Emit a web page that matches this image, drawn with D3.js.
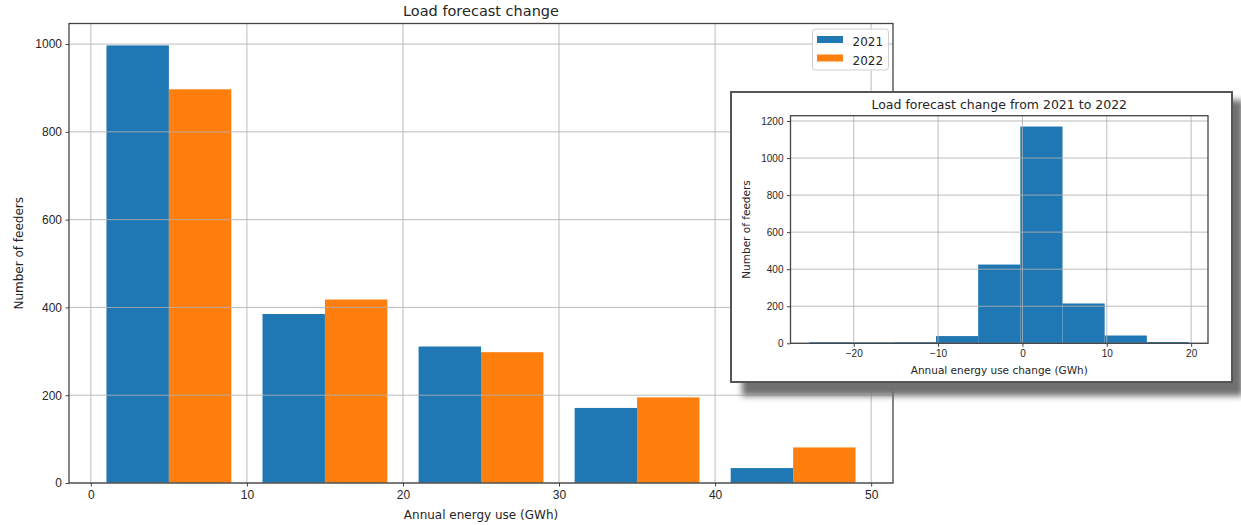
<!DOCTYPE html>
<html>
<head>
<meta charset="utf-8">
<script src="https://cdn.jsdelivr.net/npm/d3@7"></script>
<style>
  body { margin: 0; background: #fff; }
  svg { display: block; font-family: "DejaVu Sans", sans-serif; }
</style>
</head>
<body>
<div id="chart"></div>
<script>
const years = ["2021", "2022"];
const yearColors = ["#1f77b4", "#ff7f0e"];
const binEdges = [0, 10, 20, 30, 40, 50];
const feeders2021 = [997, 385, 311, 171, 34];
const feeders2022 = [897, 418, 298, 195, 81];

const changeEdges = [-25.25, -20.25, -15.25, -10.25, -5.25, -0.25, 4.75, 9.75, 14.75, 19.75];
const changeCounts = [6, 5, 6, 39, 425, 1170, 215, 42, 7];

const width = 1241;
const height = 525;
const textColor = "#262626";
const spineColor = "#444";
const gridColor = "#b0b0b0";
const tickFormat = d3.format("d");

const svg = d3.select("#chart").append("svg")
    .attr("width", width)
    .attr("height", height)
    .attr("viewBox", [0, 0, width, height]);

// matplotlib style autoscale: 5% margin on x, y sticks to zero
function padded(lo, hi) {
    const m = (hi - lo) * 0.05;
    return [lo - m, hi + m];
}

function frame(g, x, y, box, opts) {
    g.append("g")
        .attr("transform", `translate(0,${box.bottom})`)
        .call(d3.axisBottom(x).ticks(opts.xTicks).tickFormat(tickFormat)
            .tickSize(3.5).tickPadding(3.5).tickSizeOuter(0))
        .call(a => a.select(".domain").remove())
        .call(a => a.selectAll("line").attr("stroke", spineColor))
        .call(a => a.selectAll("text").attr("fill", textColor).attr("font-size", opts.tickSize));

    g.append("g")
        .attr("transform", `translate(${box.left},0)`)
        .call(d3.axisLeft(y).ticks(opts.yTicks).tickFormat(tickFormat)
            .tickSize(3.5).tickPadding(3.5).tickSizeOuter(0))
        .call(a => a.select(".domain").remove())
        .call(a => a.selectAll("line").attr("stroke", spineColor))
        .call(a => a.selectAll("text").attr("fill", textColor).attr("font-size", opts.tickSize));

    g.append("text")
        .attr("x", (box.left + box.right) / 2)
        .attr("y", opts.titleY)
        .attr("text-anchor", "middle")
        .attr("font-size", opts.titleSize)
        .attr("fill", textColor)
        .text(opts.title);

    g.append("text")
        .attr("x", (box.left + box.right) / 2)
        .attr("y", opts.xLabelY)
        .attr("text-anchor", "middle")
        .attr("font-size", opts.labelSize)
        .attr("fill", textColor)
        .text(opts.xLabel);

    g.append("text")
        .attr("transform", `translate(${opts.yLabelX},${(box.top + box.bottom) / 2}) rotate(-90)`)
        .attr("text-anchor", "middle")
        .attr("font-size", opts.labelSize)
        .attr("fill", textColor)
        .text(opts.yLabel);
}

function grid(g, x, y, box, xTicks, yTicks) {
    const gg = g.append("g")
        .attr("stroke", gridColor)
        .attr("stroke-opacity", 0.85)
        .attr("stroke-width", 1);
    gg.selectAll(".gx")
        .data(x.ticks(xTicks))
        .join("line")
        .attr("x1", d => x(d)).attr("x2", d => x(d))
        .attr("y1", box.top).attr("y2", box.bottom);
    gg.selectAll(".gy")
        .data(y.ticks(yTicks))
        .join("line")
        .attr("x1", box.left).attr("x2", box.right)
        .attr("y1", d => y(d)).attr("y2", d => y(d));
}

function spines(g, box) {
    g.append("rect")
        .attr("x", box.left)
        .attr("y", box.top)
        .attr("width", box.right - box.left)
        .attr("height", box.bottom - box.top)
        .attr("fill", "none")
        .attr("stroke", spineColor)
        .attr("stroke-width", 1.3);
}

// main chart
mainChart = function() {
    const box = { left: 69, right: 893, top: 23.5, bottom: 483 };
    const rwidth = 0.8;
    const series = [feeders2021, feeders2022];

    const bars = [];
    series.forEach((values, i) => {
        values.forEach((v, j) => {
            const w = (binEdges[j + 1] - binEdges[j]) * rwidth / series.length;
            const x0 = binEdges[j] + (binEdges[j + 1] - binEdges[j]) * (1 - rwidth) / 2 + i * w;
            bars.push({ x0, x1: x0 + w, value: v, year: i });
        });
    });

    const x = d3.scaleLinear()
        .domain(padded(d3.min(bars, d => d.x0), d3.max(bars, d => d.x1)))
        .range([box.left, box.right]);
    const y = d3.scaleLinear()
        .domain([0, d3.max(bars, d => d.value) * 1.05])
        .range([box.bottom, box.top]);

    const g = svg.append("g");

    g.append("g")
        .selectAll("rect")
        .data(bars)
        .join("rect")
        .attr("x", d => x(d.x0))
        .attr("y", d => y(d.value))
        .attr("width", d => x(d.x1) - x(d.x0))
        .attr("height", d => y(0) - y(d.value))
        .attr("fill", d => yearColors[d.year]);

    grid(g, x, y, box, 6, 6);
    spines(g, box);

    frame(g, x, y, box, {
        xTicks: 6, yTicks: 6, tickSize: 12,
        title: "Load forecast change", titleY: 15.5, titleSize: 14.5,
        xLabel: "Annual energy use (GWh)", xLabelY: 519,
        yLabel: "Number of feeders", yLabelX: 22.5, labelSize: 12
    });

    // legend
    const legend = g.append("g");
    legend.append("rect")
        .attr("x", 812.5).attr("y", 29)
        .attr("width", 76).attr("height", 41)
        .attr("rx", 3)
        .attr("fill", "#fff").attr("fill-opacity", 0.8)
        .attr("stroke", "#d0d0d0");
    const item = legend.selectAll("g")
        .data(years)
        .join("g")
        .attr("transform", (d, i) => `translate(817,${36 + i * 18.5})`);
    item.append("rect")
        .attr("width", 26).attr("height", 7)
        .attr("fill", (d, i) => yearColors[i]);
    item.append("text")
        .attr("x", 35.5).attr("y", 10)
        .attr("font-size", 12)
        .attr("fill", textColor)
        .text(d => d);
}

// inset chart
insetChart = function() {
    const panel = { x: 731, y: 92, w: 501, h: 290 };
    const box = { left: 790.5, right: 1208, top: 115.7, bottom: 343.3 };

    const defs = svg.append("defs");
    defs.append("filter")
        .attr("id", "shadow-blur")
        .attr("x", "-10%").attr("y", "-10%")
        .attr("width", "120%").attr("height", "120%")
        .append("feGaussianBlur")
        .attr("stdDeviation", 3);

    svg.append("rect")
        .attr("x", panel.x + 11).attr("y", panel.y + 8)
        .attr("width", panel.w).attr("height", panel.h + 6)
        .attr("fill", "#707070")
        .attr("filter", "url(#shadow-blur)");

    svg.append("rect")
        .attr("x", panel.x).attr("y", panel.y)
        .attr("width", panel.w).attr("height", panel.h)
        .attr("fill", "#fff")
        .attr("stroke", "#555")
        .attr("stroke-width", 2);

    const bins = changeCounts.map((c, i) => ({ x0: changeEdges[i], x1: changeEdges[i + 1], value: c }));

    const x = d3.scaleLinear()
        .domain(padded(changeEdges[0], changeEdges[changeEdges.length - 1]))
        .range([box.left, box.right]);
    const y = d3.scaleLinear()
        .domain([0, d3.max(changeCounts) * 1.05])
        .range([box.bottom, box.top]);

    const g = svg.append("g");

    g.append("g")
        .selectAll("rect")
        .data(bins)
        .join("rect")
        .attr("x", d => x(d.x0))
        .attr("y", d => y(d.value))
        .attr("width", d => x(d.x1) - x(d.x0))
        .attr("height", d => y(0) - y(d.value))
        .attr("fill", yearColors[0]);

    grid(g, x, y, box, 5, 6);
    spines(g, box);

    frame(g, x, y, box, {
        xTicks: 5, yTicks: 6, tickSize: 10,
        title: "Load forecast change from 2021 to 2022", titleY: 108.5, titleSize: 12.5,
        xLabel: "Annual energy use change (GWh)", xLabelY: 374,
        yLabel: "Number of feeders", yLabelX: 749.5, labelSize: 10.5
    });
}

mainChart();
insetChart();
</script>
</body>
</html>
